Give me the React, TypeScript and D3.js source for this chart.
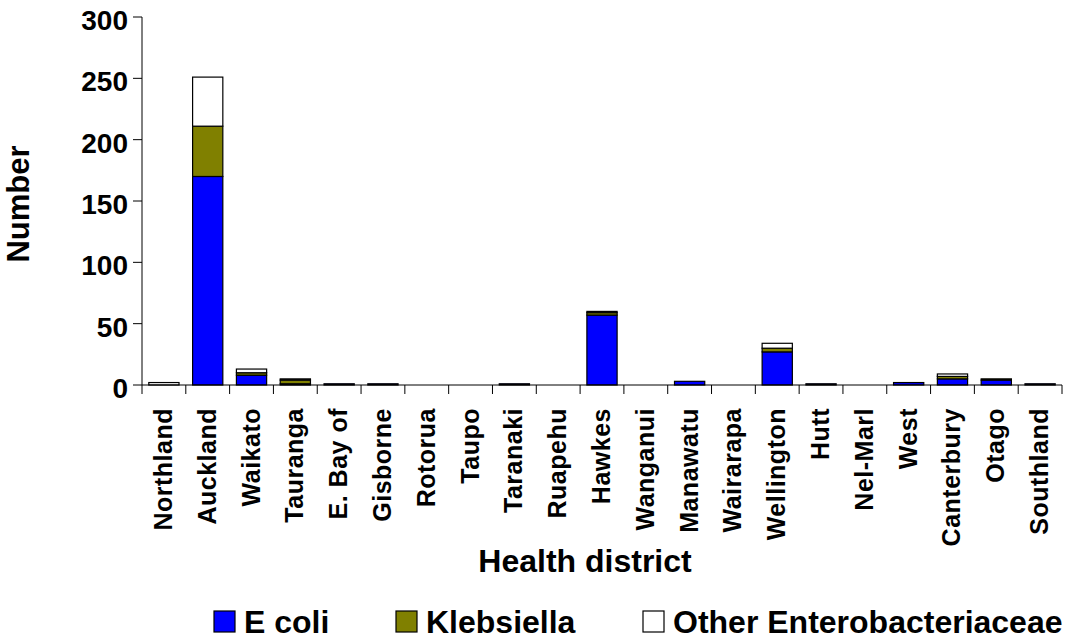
import React from 'react';
import * as d3 from 'd3';

const districts = [
  'Northland', 'Auckland', 'Waikato', 'Tauranga', 'E. Bay of', 'Gisborne', 'Rotorua',
  'Taupo', 'Taranaki', 'Ruapehu', 'Hawkes', 'Wanganui', 'Manawatu', 'Wairarapa',
  'Wellington', 'Hutt', 'Nel-Marl', 'West', 'Canterbury', 'Otago', 'Southland',
];
const eColi = [0, 170, 8, 1, 1, 1, 0, 0, 1, 0, 57, 0, 3, 0, 27, 1, 0, 2, 5, 4, 1];
const klebsiella = [0, 41, 2, 3, 0, 0, 0, 0, 0, 0, 2, 0, 0, 0, 3, 0, 0, 0, 2, 1, 0];
const otherEntero = [2, 40, 3, 1, 0, 0, 0, 0, 0, 0, 1, 0, 0, 0, 4, 0, 0, 0, 2, 0, 0];
const yTicks = [0, 50, 100, 150, 200, 250, 300];

const seriesKeys = ['E coli', 'Klebsiella', 'Other Enterobacteriaceae'];
const colors = ['#0000ff', '#808000', '#ffffff'];

const W = 1070;
const H = 640;
const left = 142;
const right = 1062;
const top = 17;
const bottom = 385;
const font = 'Liberation Sans, Arial, sans-serif';

const App: React.FC = () => {
  const x = d3
    .scaleBand<string>()
    .domain(districts)
    .range([left, right])
    .paddingInner(0.31)
    .paddingOuter(0.155);
  const y = d3.scaleLinear().domain([0, 300]).range([bottom, top]);

  const rows = districts.map((d, i) => ({
    district: d,
    'E coli': eColi[i],
    Klebsiella: klebsiella[i],
    'Other Enterobacteriaceae': otherEntero[i],
  }));
  const stacked = d3.stack<any>().keys(seriesKeys)(rows);

  const step = x.step();
  const tickXs = d3.range(districts.length + 1).map((i) => left + i * step);

  // legend positions
  const legendX = [214, 396, 643];

  return (
    <svg
      width={W}
      height={H}
      style={{ position: 'absolute', left: 0, top: 0, background: '#fff' }}
      fontFamily={font}
      fontWeight="bold"
    >
      {/* bars */}
      {stacked.map((s, si) => (
        <g key={s.key}>
          {s.map((d, i) => {
            const h = y(d[0]) - y(d[1]);
            if (h <= 0) return null;
            return (
              <rect
                key={i}
                x={x(districts[i])}
                y={y(d[1])}
                width={x.bandwidth()}
                height={h}
                fill={colors[si]}
                stroke="#000"
                strokeWidth={1.2}
              />
            );
          })}
        </g>
      ))}

      {/* y axis */}
      <line x1={left} x2={left} y1={top} y2={bottom} stroke="#000" />
      {yTicks.map((t) => (
        <g key={t}>
          <line x1={left - 9} x2={left} y1={y(t)} y2={y(t)} stroke="#000" />
          <text x={left - 14} y={y(t) + 13} textAnchor="end" fontSize={28}>
            {t}
          </text>
        </g>
      ))}

      {/* x axis */}
      <line x1={left} x2={right} y1={bottom} y2={bottom} stroke="#000" />
      {tickXs.map((tx, i) => (
        <line key={i} x1={tx} x2={tx} y1={bottom} y2={bottom + 9} stroke="#000" />
      ))}
      {districts.map((d) => (
        <text
          key={d}
          transform={`translate(${x(d)! + x.bandwidth() / 2},408) rotate(-90)`}
          dy={8}
          textAnchor="end"
          fontSize={25}
          letterSpacing={0.5}
        >
          {d}
        </text>
      ))}

      {/* axis titles */}
      <text x={585} y={572} textAnchor="middle" fontSize={32}>
        Health district
      </text>
      <text transform="translate(29,204) rotate(-90)" textAnchor="middle" fontSize={31}>
        Number
      </text>

      {/* legend */}
      {seriesKeys.map((k, i) => (
        <g key={k}>
          <rect
            x={legendX[i]}
            y={611}
            width={21}
            height={21}
            fill={colors[i]}
            stroke="#000"
            strokeWidth={1.2}
          />
          <text x={legendX[i] + 30} y={633} fontSize={32}>
            {k}
          </text>
        </g>
      ))}
    </svg>
  );
};

export default App;
